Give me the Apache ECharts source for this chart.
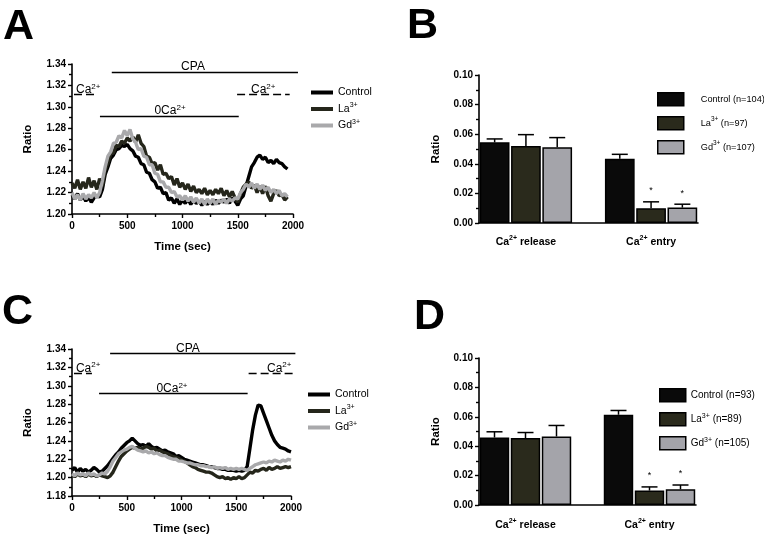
<!DOCTYPE html>
<html><head><meta charset="utf-8">
<script src="https://cdn.jsdelivr.net/npm/echarts@6/dist/echarts.min.js"></script>
<style>html,body{margin:0;padding:0;background:#fff}#c{width:764px;height:536px}</style>
</head><body><div id="c"></div>
<script>
const FONT = '"Liberation Sans", Arial, Helvetica, sans-serif';

// ---- time axis (sec) ----
const timeSec = [0,25,50,75,100,125,150,175,200,225,250,275,300,325,350,375,400,425,450,475,
500,525,550,575,600,625,650,675,700,725,750,775,800,825,850,875,900,925,950,975,
1000,1025,1050,1075,1100,1125,1150,1175,1200,1225,1250,1275,1300,1325,1350,1375,1400,1425,1450,1475,
1500,1525,1550,1575,1600,1625,1650,1675,1700,1725,1750,1775,1800,1825,1850,1875,1900,1925,1950,1975,2000];

const traceNames = ['Control', 'La3+', 'Gd3+'];

// ---- Panel A traces (0..1950 s) ----
const A_control = [1.218,1.214,1.219,1.213,1.217,1.212,1.216,1.211,1.215,1.217,
1.216,1.223,1.237,1.244,1.252,1.255,1.260,1.261,1.264,1.263,
1.265,1.261,1.259,1.254,1.253,1.247,1.246,1.239,1.238,1.232,
1.230,1.224,1.225,1.219,1.220,1.213,1.215,1.210,1.214,1.209,
1.213,1.210,1.214,1.209,1.213,1.210,1.212,1.208,1.212,1.209,
1.212,1.209,1.213,1.210,1.213,1.211,1.214,1.210,1.215,1.212,
1.208,1.214,1.217,1.226,1.235,1.244,1.248,1.253,1.255,1.251,
1.253,1.248,1.250,1.247,1.251,1.248,1.247,1.244,1.242];
const A_la = [1.229,1.224,1.232,1.223,1.230,1.224,1.234,1.225,1.231,1.223,
1.233,1.226,1.241,1.247,1.256,1.257,1.264,1.263,1.268,1.266,
1.271,1.268,1.272,1.267,1.274,1.266,1.263,1.254,1.253,1.247,
1.248,1.241,1.246,1.237,1.238,1.233,1.235,1.227,1.233,1.225,
1.229,1.223,1.228,1.221,1.226,1.220,1.223,1.219,1.224,1.218,
1.222,1.218,1.223,1.219,1.224,1.217,1.222,1.216,1.221,1.215,
1.211,1.219,1.225,1.228,1.230,1.224,1.227,1.220,1.226,1.219,
1.226,1.217,1.212,1.219,1.222,1.217,1.218,1.213,1.216];
const A_gd = [1.220,1.214,1.218,1.213,1.219,1.214,1.218,1.215,1.220,1.215,
1.220,1.231,1.244,1.254,1.258,1.266,1.267,1.273,1.271,1.278,
1.273,1.279,1.270,1.267,1.260,1.261,1.254,1.253,1.246,1.246,
1.238,1.237,1.230,1.230,1.225,1.225,1.220,1.221,1.216,1.217,
1.213,1.217,1.212,1.216,1.211,1.215,1.210,1.214,1.209,1.214,
1.210,1.214,1.209,1.213,1.211,1.214,1.210,1.214,1.212,1.215,
1.214,1.220,1.223,1.228,1.225,1.229,1.224,1.228,1.223,1.227,
1.222,1.225,1.220,1.223,1.219,1.222,1.217,1.219,1.216];

// ---- Panel C traces (0..2000 s) ----
const C_control = [1.208,1.211,1.206,1.210,1.207,1.209,1.206,1.208,1.211,1.209,
1.206,1.207,1.210,1.213,1.217,1.221,1.225,1.228,1.232,1.235,
1.238,1.240,1.243,1.240,1.237,1.235,1.236,1.234,1.237,1.234,
1.232,1.233,1.231,1.229,1.230,1.228,1.227,1.226,1.223,1.224,
1.222,1.220,1.219,1.218,1.217,1.216,1.215,1.214,1.214,1.213,
1.212,1.212,1.211,1.210,1.210,1.209,1.209,1.208,1.208,1.208,
1.207,1.208,1.207,1.208,1.212,1.232,1.252,1.268,1.279,1.278,
1.270,1.262,1.254,1.246,1.240,1.236,1.233,1.232,1.231,1.229,
1.228];
const C_la = [1.203,1.201,1.204,1.202,1.203,1.201,1.204,1.202,1.203,1.201,
1.203,1.202,1.201,1.200,1.202,1.206,1.212,1.218,1.223,1.226,
1.229,1.231,1.233,1.232,1.233,1.231,1.232,1.234,1.233,1.231,
1.232,1.229,1.230,1.228,1.227,1.226,1.224,1.223,1.222,1.221,
1.219,1.218,1.216,1.214,1.212,1.211,1.209,1.208,1.207,1.206,
1.206,1.205,1.203,1.201,1.200,1.201,1.199,1.200,1.198,1.200,
1.199,1.201,1.199,1.200,1.203,1.206,1.205,1.208,1.207,1.209,
1.210,1.208,1.211,1.209,1.210,1.212,1.210,1.211,1.212,1.211,
1.212];
const C_gd = [1.204,1.202,1.205,1.203,1.204,1.202,1.205,1.203,1.204,1.202,
1.203,1.205,1.204,1.207,1.212,1.218,1.222,1.226,1.228,1.230,
1.231,1.233,1.234,1.232,1.230,1.229,1.228,1.229,1.227,1.228,
1.226,1.227,1.225,1.224,1.224,1.222,1.221,1.220,1.220,1.218,
1.218,1.217,1.216,1.216,1.215,1.214,1.214,1.213,1.213,1.212,
1.212,1.211,1.212,1.210,1.211,1.210,1.211,1.209,1.210,1.209,
1.210,1.209,1.210,1.209,1.208,1.210,1.212,1.214,1.215,1.216,
1.217,1.216,1.218,1.217,1.219,1.218,1.217,1.219,1.218,1.220,
1.219];

// ---- Bar panels ----
const barCategories = ['Ca2+ release', 'Ca2+ entry'];
const B_legend = ['Control (n=104)', 'La3+ (n=97)', 'Gd3+ (n=107)'];
const B_control = [0.0545, 0.0434];
const B_la      = [0.0520, 0.0100];
const B_gd      = [0.0511, 0.0104];
const B_controlSem = [0.0023, 0.0030];
const B_laSem      = [0.0077, 0.0043];
const B_gdSem      = [0.0066, 0.0023];
const D_legend = ['Control (n=93)', 'La3+ (n=89)', 'Gd3+ (n=105)'];
const D_control = [0.0459, 0.0614];
const D_la      = [0.0455, 0.0098];
const D_gd      = [0.0466, 0.0107];
const D_controlSem = [0.0039, 0.0029];
const D_laSem      = [0.0038, 0.0025];
const D_gdSem      = [0.0075, 0.0029];
const significant = [[0, 0], [0, 1], [0, 1]]; // per series (control, La, Gd), per category

// ---- annotation bars (data coords) ----
const annA = {
  lines: [
    {x0: 360, x1: 2045, y: 1.3325, dashed: false},
    {x0: 18, x1: 200, y: 1.3120, dashed: true},
    {x0: 253, x1: 1509, y: 1.2917, dashed: false},
    {x0: 1494, x1: 1970, y: 1.3120, dashed: true}
  ],
  labels: [
    {text: 'CPA', x: 1095, y: 1.3372, align: 'center'},
    {text: 'Ca2+', x: 36, y: 1.3162, align: 'left'},
    {text: '0Ca2+', x: 887, y: 1.2966, align: 'center'},
    {text: 'Ca2+', x: 1620, y: 1.3162, align: 'left'}
  ]
};
const annC = {
  lines: [
    {x0: 348, x1: 2040, y: 1.3357, dashed: false},
    {x0: 18, x1: 182, y: 1.3140, dashed: true},
    {x0: 247, x1: 1604, y: 1.2924, dashed: false},
    {x0: 1613, x1: 2037, y: 1.3140, dashed: true}
  ],
  labels: [
    {text: 'CPA', x: 1059, y: 1.3405, align: 'center'},
    {text: 'Ca2+', x: 36, y: 1.3190, align: 'left'},
    {text: '0Ca2+', x: 913, y: 1.2972, align: 'center'},
    {text: 'Ca2+', x: 1781, y: 1.3190, align: 'left'}
  ]
};

const lineColors = ['#000000', '#25261b', '#a9a9ab'];
const barColors = ['#0a0a0a', '#2a2a1c', '#a4a4aa'];

function richify(str, b, s) {
  return str.split(/(\d\+)/).filter(p => p !== '').map(p =>
    /^\d\+$/.test(p) ? '{' + s + '|' + p + '}' : '{' + b + '|' + p + '}').join('');
}

function pairs(values) { return values.map((v, i) => [timeSec[i], v]); }

// slot layout for bar panels: 3 bars, empty slot, 3 bars
const groupStart = [0, 4];
const slotCount = 7;
const slotLabels = [];
for (let i = 0; i < slotCount; i++) slotLabels.push('');
barCategories.forEach((c, ci) => { slotLabels[groupStart[ci] + 1] = c; });

function slotData(values, k) {
  const d = [];
  for (let i = 0; i < slotCount; i++) d.push('-');
  values.forEach((v, ci) => { d[groupStart[ci] + k] = v; });
  return d;
}
function errData(means, sems) {
  const out = [];
  means.forEach((vals, k) => vals.forEach((v, ci) => {
    out.push([groupStart[ci] + k, v, sems[k][ci], significant[k][ci]]);
  }));
  return out;
}

const axisLineStyle = {show: true, lineStyle: {color: '#000', width: 1.6}};
const tickStyle = {show: true, length: 4, lineStyle: {color: '#000', width: 1.4}};
const minorTickStyle = {show: true, splitNumber: 2, length: 3, lineStyle: {color: '#000', width: 1.4}};
const tickLabel = {color: '#000', fontFamily: FONT, fontWeight: 'bold', fontSize: 10};
const nameStyle = {color: '#000', fontFamily: FONT, fontWeight: 'bold', fontSize: 11.5};

function timeAxis(gi) {
  return {
    type: 'value', gridIndex: gi, min: 0, max: 2000, interval: 500,
    axisLine: axisLineStyle, axisTick: tickStyle, minorTick: minorTickStyle,
    splitLine: {show: false}, minorSplitLine: {show: false},
    axisLabel: Object.assign({margin: 7, formatter: v => String(v)}, tickLabel),
    name: 'Time (sec)', nameLocation: 'middle', nameGap: 27, nameTextStyle: nameStyle
  };
}
function ratioAxis(gi, min, max, interval, digits, gap) {
  return {
    type: 'value', gridIndex: gi, min: min, max: max, interval: interval,
    axisLine: axisLineStyle, axisTick: tickStyle, minorTick: minorTickStyle,
    splitLine: {show: false}, minorSplitLine: {show: false},
    axisLabel: Object.assign({margin: 6, formatter: v => v.toFixed(digits)}, tickLabel),
    name: 'Ratio', nameLocation: 'middle', nameGap: gap, nameTextStyle: nameStyle
  };
}
function catAxis(gi, margin) {
  return {
    type: 'category', gridIndex: gi, data: slotLabels,
    axisLine: axisLineStyle, axisTick: {show: false},
    axisLabel: {interval: 0, margin: margin, formatter: v => v ? richify(v, 'b', 's') : '',
      rich: {
        b: {fontFamily: FONT, fontWeight: 'bold', fontSize: 10.5, color: '#000', lineHeight: 14},
        s: {fontFamily: FONT, fontWeight: 'bold', fontSize: 7, color: '#000', lineHeight: 14, verticalAlign: 'top'}
      }}
  };
}

function traceSeries(gi, arrays) {
  return arrays.map((arr, k) => ({
    type: 'line', name: traceNames[k], xAxisIndex: gi, yAxisIndex: gi,
    data: pairs(arr), showSymbol: false, symbol: 'none',
    lineStyle: {color: lineColors[k], width: 3.4}, itemStyle: {color: lineColors[k]},
    z: 2 + k, animation: false
  }));
}
function barSeries(gi, names, arrays) {
  return arrays.map((arr, k) => ({
    type: 'bar', name: names[k], xAxisIndex: gi, yAxisIndex: gi,
    data: slotData(arr, k), barGap: '-100%', barCategoryGap: '5%',
    itemStyle: {color: barColors[k], borderColor: '#000', borderWidth: 1.5},
    animation: false
  }));
}
function errSeries(gi, means, sems) {
  return {
    type: 'custom', xAxisIndex: gi, yAxisIndex: gi, data: errData(means, sems),
    silent: true, z: 10, clip: false, animation: false,
    renderItem: function (params, api) {
      const x = api.value(0), m = api.value(1), e = api.value(2), sig = api.value(3);
      const p0 = api.coord([x, m]);
      const p1 = api.coord([x, m + e]);
      const ch = [
        {type: 'line', shape: {x1: p0[0], y1: p0[1], x2: p1[0], y2: p1[1]}, style: {stroke: '#000', lineWidth: 1.5}},
        {type: 'line', shape: {x1: p1[0] - 8, y1: p1[1], x2: p1[0] + 8, y2: p1[1]}, style: {stroke: '#000', lineWidth: 1.5}}
      ];
      if (sig) ch.push({type: 'text', x: p1[0], y: p1[1] - 11,
        style: {text: '*', fill: '#000', font: '9px ' + FONT, align: 'center', verticalAlign: 'middle'}});
      return {type: 'group', children: ch};
    }
  };
}

const legendRichLine = {
  t: {fontFamily: FONT, fontSize: 10.5, color: '#000', lineHeight: 14},
  s: {fontFamily: FONT, fontSize: 7, color: '#000', lineHeight: 14, verticalAlign: 'top'}
};
function legendRich(size) {
  return {
    t: {fontFamily: FONT, fontSize: size, color: '#000', lineHeight: 14},
    s: {fontFamily: FONT, fontSize: size * 0.7, color: '#000', lineHeight: 14, verticalAlign: 'top'}
  };
}

const chart = echarts.init(document.getElementById('c'), null, {renderer: 'canvas'});
chart.setOption({
  backgroundColor: '#ffffff',
  animation: false,
  textStyle: {fontFamily: FONT},
  grid: [
    {left: 72, top: 64, width: 221, height: 150},
    {left: 479, top: 75, width: 219, height: 148},
    {left: 72, top: 349, width: 219, height: 148},
    {left: 479, top: 358, width: 217, height: 147}
  ],
  xAxis: [timeAxis(0), catAxis(1, 12), timeAxis(2), catAxis(3, 13)],
  yAxis: [
    ratioAxis(0, 1.20, 1.34, 0.02, 2, 38),
    ratioAxis(1, 0, 0.10, 0.02, 2, 37),
    ratioAxis(2, 1.18, 1.34, 0.02, 2, 38),
    ratioAxis(3, 0, 0.10, 0.02, 2, 37)
  ],
  legend: [
    {data: traceNames, orient: 'vertical', left: 306, top: 82, icon: 'rect', itemWidth: 22, itemHeight: 4,
      itemGap: 4, formatter: n => richify(n, 't', 's'), textStyle: {rich: legendRichLine}, selectedMode: false},
    {data: B_legend, orient: 'vertical', left: 652, top: 87, icon: 'rect', itemWidth: 26, itemHeight: 13,
      itemGap: 9.5, itemStyle: {borderColor: '#000', borderWidth: 1.5},
      formatter: n => richify(n, 't', 's'), textStyle: {rich: legendRich(9.2), padding: [0, 0, 0, 12]}, selectedMode: false},
    {data: traceNames, orient: 'vertical', left: 303, top: 384, icon: 'rect', itemWidth: 22, itemHeight: 4,
      itemGap: 4, formatter: n => richify(n, 't', 's'), textStyle: {rich: legendRichLine}, selectedMode: false},
    {data: D_legend, orient: 'vertical', left: 654, top: 383, icon: 'rect', itemWidth: 26, itemHeight: 13,
      itemGap: 9.5, itemStyle: {borderColor: '#000', borderWidth: 1.5},
      formatter: n => richify(n, 't', 's'), textStyle: {rich: legendRich(10)}, selectedMode: false}
  ],
  series: [].concat(
    traceSeries(0, [A_control, A_la, A_gd]),
    barSeries(1, B_legend, [B_control, B_la, B_gd]),
    [errSeries(1, [B_control, B_la, B_gd], [B_controlSem, B_laSem, B_gdSem])],
    traceSeries(2, [C_control, C_la, C_gd]),
    barSeries(3, D_legend, [D_control, D_la, D_gd]),
    [errSeries(3, [D_control, D_la, D_gd], [D_controlSem, D_laSem, D_gdSem])]
  )
});

// ---- graphics: panel letters + protocol annotations ----
const annRich = {
  t: {fontFamily: FONT, fontSize: 12, fill: '#000', lineHeight: 14},
  s: {fontFamily: FONT, fontSize: 8, fill: '#000', lineHeight: 14, verticalAlign: 'top'}
};
const graphics = [];
[['A', 3, 27], ['B', 407, 26], ['C', 2, 312], ['D', 414, 317]].forEach(([t, x, y]) => {
  graphics.push({type: 'text', x: x, y: y, silent: true,
    style: {text: t, fill: '#000', font: 'bold 43px ' + FONT, align: 'left', verticalAlign: 'middle'}});
});
function addAnnotations(gi, ann) {
  ann.lines.forEach(l => {
    const p0 = chart.convertToPixel({gridIndex: gi}, [l.x0, l.y]);
    const p1 = chart.convertToPixel({gridIndex: gi}, [l.x1, l.y]);
    graphics.push({type: 'line', silent: true,
      shape: {x1: p0[0], y1: Math.round(p0[1]) + 0.5, x2: p1[0], y2: Math.round(p1[1]) + 0.5},
      style: {stroke: '#000', lineWidth: 1.5, lineDash: l.dashed ? [8, 4] : null}});
  });
  ann.labels.forEach(lb => {
    const p = chart.convertToPixel({gridIndex: gi}, [lb.x, lb.y]);
    graphics.push({type: 'text', silent: true, x: p[0], y: p[1],
      style: {text: richify(lb.text, 't', 's'), rich: annRich, align: lb.align, verticalAlign: 'middle'}});
  });
}
addAnnotations(0, annA);
addAnnotations(2, annC);
chart.setOption({graphic: graphics});
</script>
</body></html>
